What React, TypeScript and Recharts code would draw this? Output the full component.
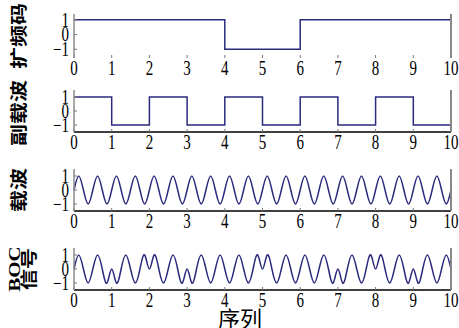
import { LineChart, Line, XAxis, YAxis } from "recharts"

// axis ticks
const xTicks = [0, 1, 2, 3, 4, 5, 6, 7, 8, 9, 10]
const yTicks = [-1, 0, 1]

// chip-rate signals (last value repeated so the step reaches t = 10)
const chipT = [0, 1, 2, 3, 4, 5, 6, 7, 8, 9, 10]
const spreadCode = [1, 1, 1, 1, -1, -1, 1, 1, 1, 1, 1]
const subCarrier = [1, -1, 1, -1, 1, -1, 1, -1, 1, -1, -1]

// carrier / BOC samples, quarter period steps
const sampleT = [
  0, 0.125, 0.25, 0.375, 0.5, 0.625, 0.75, 0.875,
  1, 1.125, 1.25, 1.375, 1.5, 1.625, 1.75, 1.875,
  2, 2.125, 2.25, 2.375, 2.5, 2.625, 2.75, 2.875,
  3, 3.125, 3.25, 3.375, 3.5, 3.625, 3.75, 3.875,
  4, 4.125, 4.25, 4.375, 4.5, 4.625, 4.75, 4.875,
  5, 5.125, 5.25, 5.375, 5.5, 5.625, 5.75, 5.875,
  6, 6.125, 6.25, 6.375, 6.5, 6.625, 6.75, 6.875,
  7, 7.125, 7.25, 7.375, 7.5, 7.625, 7.75, 7.875,
  8, 8.125, 8.25, 8.375, 8.5, 8.625, 8.75, 8.875,
  9, 9.125, 9.25, 9.375, 9.5, 9.625, 9.75, 9.875,
  10,
]
const carrierWave = [
  0, 1, 0, -1, 0, 1, 0, -1,
  0, 1, 0, -1, 0, 1, 0, -1,
  0, 1, 0, -1, 0, 1, 0, -1,
  0, 1, 0, -1, 0, 1, 0, -1,
  0, 1, 0, -1, 0, 1, 0, -1,
  0, 1, 0, -1, 0, 1, 0, -1,
  0, 1, 0, -1, 0, 1, 0, -1,
  0, 1, 0, -1, 0, 1, 0, -1,
  0, 1, 0, -1, 0, 1, 0, -1,
  0, 1, 0, -1, 0, 1, 0, -1,
  0,
]
const bocSignal = [
  0, 1, 0, -1, 0, 1, 0, -1,
  0, -1, 0, 1, 0, -1, 0, 1,
  0, 1, 0, -1, 0, 1, 0, -1,
  0, -1, 0, 1, 0, -1, 0, 1,
  0, -1, 0, 1, 0, -1, 0, 1,
  0, 1, 0, -1, 0, 1, 0, -1,
  0, 1, 0, -1, 0, 1, 0, -1,
  0, -1, 0, 1, 0, -1, 0, 1,
  0, 1, 0, -1, 0, 1, 0, -1,
  0, -1, 0, 1, 0, -1, 0, 1,
  0,
]

const chipRows = chipT.map((t, i) => ({ t, code: spreadCode[i], sub: subCarrier[i] }))
const waveRows = sampleT.map((t, i) => ({ t, carrier: carrierWave[i], boc: bocSignal[i] }))

const TICK_SQUASH = 0.75
const TITLE_SQUASH = 0.8
const serif = "'Liberation Serif', 'Times New Roman', serif"
const cjk = "'Noto Sans CJK SC', sans-serif"
const lineColor = "#2a2a7e"

function XTick({ x, y, payload }: any) {
  return (
    <g transform={`translate(${x},${y}) scale(${TICK_SQUASH},1)`}>
      <text x={0} y={0} dy="0.75em" textAnchor="middle" fill="#000" fontSize={20} fontFamily={serif}>
        {payload.value}
      </text>
    </g>
  )
}

function YTick({ x, y, payload }: any) {
  const label = String(payload.value).replace("-", "\u2212")
  return (
    <g transform={`translate(${x},${y}) scale(${TICK_SQUASH},1)`}>
      <text x={0} y={0} dy="0.34em" textAnchor="end" fill="#000" fontSize={20} fontFamily={serif}>
        {label}
      </text>
    </g>
  )
}

interface PanelProps {
  top: number
  frameH: number
  domain: [number, number]
  data: any[]
  dataKey: string
  curve: "stepAfter" | "natural"
  bottomLine?: boolean
}

function Panel({ top, frameH, domain, data, dataKey, curve, bottomLine = true }: PanelProps) {
  return (
    <div style={{ position: "absolute", left: 0, top }}>
      <LineChart width={459} height={2 + frameH + 26} data={data} margin={{ top: 2, right: 0, bottom: 0, left: 0 }}>
        <XAxis
          xAxisId="b"
          dataKey="t"
          type="number"
          domain={[0, 10]}
          ticks={xTicks}
          interval={0}
          height={26}
          tickSize={-3}
          tickMargin={5}
          tick={<XTick />}
          axisLine={bottomLine ? { stroke: "#000", strokeWidth: 1.5 } : false}
          tickLine={{ stroke: "#777" }}
        />
        <XAxis
          xAxisId="t"
          orientation="top"
          dataKey="t"
          type="number"
          domain={[0, 10]}
          ticks={xTicks}
          interval={0}
          height={0}
          mirror
          tick={false}
          tickSize={3}
          axisLine={{ stroke: "#000", strokeWidth: 2 }}
          tickLine={{ stroke: "#777" }}
        />
        <YAxis
          yAxisId="l"
          type="number"
          domain={domain}
          ticks={yTicks}
          interval={0}
          width={74}
          tickSize={-3}
          tickMargin={8}
          tick={<YTick />}
          axisLine={{ stroke: "#888", strokeWidth: 1.5 }}
          tickLine={{ stroke: "#777" }}
        />
        <YAxis
          yAxisId="r"
          orientation="right"
          type="number"
          domain={domain}
          ticks={yTicks}
          interval={0}
          width={8}
          tickSize={-3}
          tick={false}
          axisLine={{ stroke: "#888", strokeWidth: 2 }}
          tickLine={{ stroke: "#777" }}
        />
        <Line
          xAxisId="b"
          yAxisId="l"
          dataKey={dataKey}
          type={curve}
          stroke={lineColor}
          strokeWidth={1.5}
          dot={false}
          isAnimationActive={false}
        />
      </LineChart>
    </div>
  )
}

function SideTitle({ x, y, children, size = 22, lineHeight = "24px" }: any) {
  return (
    <div
      style={{
        position: "absolute",
        left: x,
        top: y,
        transform: `translate(-50%, -50%) scaleX(${TITLE_SQUASH}) rotate(-90deg)`,
        whiteSpace: "nowrap",
        fontSize: size,
        lineHeight,
        fontWeight: 700,
        fontFamily: `'Liberation Serif', ${cjk}`,
        textAlign: "center",
        color: "#000",
      }}
    >
      {children}
    </div>
  )
}

export default function App() {
  return (
    <div style={{ position: "fixed", left: 0, top: 0, width: 459, height: 328, background: "#fff", overflow: "hidden" }}>
      <Panel top={12} frameH={44} domain={[-1.6, 1.4]} data={chipRows} dataKey="code" curve="stepAfter" bottomLine={false} />
      <Panel top={88} frameH={42} domain={[-1.5, 1.5]} data={chipRows} dataKey="sub" curve="stepAfter" />
      <Panel top={167} frameH={42} domain={[-1.5, 1.5]} data={waveRows} dataKey="carrier" curve="natural" />
      <Panel top={246} frameH={42} domain={[-1.5, 1.5]} data={waveRows} dataKey="boc" curve="natural" />

      <SideTitle x={19} y={36}>扩频码</SideTitle>
      <SideTitle x={19} y={113}>副载波</SideTitle>
      <SideTitle x={19} y={190}>载波</SideTitle>
      <SideTitle x={22} y={269} size={21} lineHeight="19px">
        BOC
        <br />
        信号
      </SideTitle>

      <div
        style={{
          position: "absolute",
          left: 240,
          top: 317,
          transform: "translate(-50%, -50%)",
          fontSize: 22,
          lineHeight: 1,
          fontFamily: cjk,
          whiteSpace: "nowrap",
          color: "#000",
        }}
      >
        序列
      </div>
    </div>
  )
}
